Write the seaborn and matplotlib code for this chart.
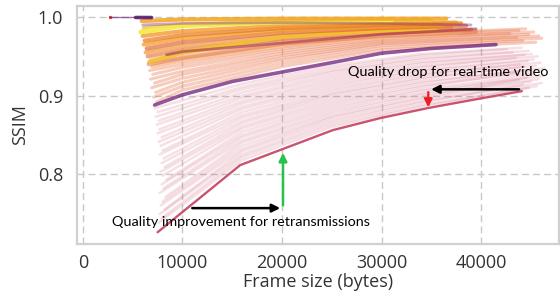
import numpy as np
import pandas as pd
import matplotlib.pyplot as plt
import seaborn as sns

# highlighted curves
crimson_size = [7500, 15800, 25100, 29850, 34600, 38900, 44100]
crimson_ssim = [0.726, 0.8115, 0.856, 0.8713, 0.884, 0.894, 0.9057]
purple_size = [7200, 10000, 15000, 20000, 25000, 30000, 35000, 41500]
purple_ssim = [0.888, 0.901, 0.918, 0.930, 0.942, 0.954, 0.960, 0.965]

# near-lossless clip at the very top
static_size = [2700, 5300, 6900]
static_ssim = [0.9995, 0.9995, 0.9994]

# faint bundle below the purple curve (bottom to top)
pink_knots = [16000, 25000, 34000]
pink_start_size = [7600, 7900, 7700, 8200, 7800, 8000, 8300, 7700, 8100, 7900,
                   8400, 8000, 7800, 8200, 7900, 8100, 7700, 8000, 7800, 7600,
                   7900, 7500, 7700, 7400, 7600, 7300, 7500, 7200]
pink_start_ssim = [0.738, 0.744, 0.749, 0.755, 0.760, 0.765, 0.771, 0.776, 0.782, 0.787,
                   0.793, 0.798, 0.803, 0.809, 0.814, 0.820, 0.825, 0.830, 0.836, 0.841,
                   0.847, 0.852, 0.857, 0.863, 0.868, 0.873, 0.879, 0.884]
pink_ssim_16k = [0.818, 0.822, 0.825, 0.829, 0.832, 0.836, 0.840, 0.843, 0.847, 0.850,
                 0.854, 0.858, 0.861, 0.865, 0.868, 0.872, 0.875, 0.879, 0.883, 0.886,
                 0.890, 0.893, 0.897, 0.900, 0.904, 0.908, 0.911, 0.915]
pink_ssim_25k = [0.860, 0.863, 0.866, 0.869, 0.872, 0.874, 0.877, 0.880, 0.883, 0.886,
                 0.889, 0.892, 0.895, 0.898, 0.901, 0.903, 0.906, 0.909, 0.912, 0.915,
                 0.918, 0.921, 0.924, 0.927, 0.930, 0.932, 0.935, 0.938]
pink_ssim_34k = [0.886, 0.888, 0.891, 0.893, 0.896, 0.898, 0.901, 0.903, 0.906, 0.908,
                 0.911, 0.913, 0.916, 0.918, 0.921, 0.923, 0.926, 0.928, 0.931, 0.933,
                 0.936, 0.938, 0.941, 0.943, 0.946, 0.948, 0.951, 0.953]
pink_end_size = [44800, 45600, 44200, 46100, 45000, 43800, 45800, 44600, 46300, 45200,
                 43600, 45900, 44900, 46400, 44300, 45500, 43900, 46000, 44700, 45300,
                 43500, 45700, 44400, 45100, 43200, 44800, 42600, 44100]
pink_end_ssim = [0.910, 0.912, 0.914, 0.916, 0.918, 0.920, 0.921, 0.923, 0.925, 0.927,
                 0.929, 0.931, 0.933, 0.935, 0.937, 0.938, 0.940, 0.942, 0.944, 0.946,
                 0.948, 0.950, 0.952, 0.953, 0.955, 0.957, 0.959, 0.961]

# salmon bundle between the purple curve and the warm cluster
mid_knots = [10000, 20000, 30000]
mid_start_size = [7400, 7100, 7300, 6900, 7200, 6800, 7000, 6700, 6900, 6600]
mid_start_ssim = [0.892, 0.898, 0.904, 0.910, 0.916, 0.921, 0.927, 0.932, 0.937, 0.942]
mid_ssim_10k = [0.907, 0.912, 0.917, 0.922, 0.927, 0.931, 0.936, 0.940, 0.944, 0.948]
mid_ssim_20k = [0.937, 0.941, 0.945, 0.948, 0.951, 0.954, 0.957, 0.960, 0.962, 0.965]
mid_ssim_30k = [0.958, 0.961, 0.964, 0.966, 0.968, 0.970, 0.972, 0.974, 0.976, 0.978]
mid_end_size = [45500, 44200, 46100, 43600, 45800, 44800, 42900, 45300, 43800, 44500]
mid_end_ssim = [0.968, 0.970, 0.973, 0.974, 0.976, 0.978, 0.979, 0.981, 0.983, 0.985]

# warm cluster of high quality clips (top to bottom)
top_knots = [10000, 20000, 30000]
top_start_size = [5900, 6000, 5800, 6100, 6000, 6200, 6100, 6400, 8400, 6700, 6300, 6500, 6800, 6600, 7000]
top_start_ssim = [0.995, 0.990, 0.981, 0.986, 0.976, 0.970, 0.965, 0.960, 0.952, 0.943, 0.955, 0.950, 0.945, 0.940, 0.937]
top_ssim_10k = [0.997, 0.992, 0.989, 0.990, 0.982, 0.977, 0.973, 0.968, 0.956, 0.955, 0.963, 0.958, 0.952, 0.948, 0.945]
top_ssim_20k = [0.998, 0.993, 0.994, 0.994, 0.989, 0.986, 0.983, 0.980, 0.967, 0.975, 0.976, 0.972, 0.969, 0.966, 0.963]
top_ssim_30k = [0.998, 0.992, 0.996, 0.995, 0.992, 0.990, 0.988, 0.986, 0.978, 0.983, 0.983, 0.980, 0.978, 0.976, 0.974]
top_end_size = [36500, 39000, 31000, 35000, 37500, 38000, 36000, 38500, 39500, 35500, 37000, 39000, 38000, 39500, 37500]
top_end_ssim = [0.998, 0.990, 0.996, 0.996, 0.993, 0.992, 0.990, 0.989, 0.985, 0.986, 0.986, 0.984, 0.982, 0.981, 0.979]
top_colors = ['#f4a21c', '#7b2a80', '#f5ea50', '#f0c23a', '#f29420', '#e8761e', '#f39c26',
              '#e0602c', '#a3304e', '#f1c232', '#ef8c2a', '#e36a32', '#f4b07a', '#e8764a', '#f7c590']
top_alpha = [0.85, 0.4, 0.95, 0.75, 0.75, 0.7, 0.75, 0.65, 0.6, 0.9, 0.65, 0.6, 0.6, 0.55, 0.55]
top_width = [3, 2, 3.5, 3, 3, 3, 3, 3, 2, 3.2, 3, 3, 3, 3, 3]


def bundle(prefix, start_size, start_ssim, knots, knot_cols, end_size, end_ssim):
    rows = []
    for i in range(len(start_size)):
        sizes = [start_size[i]] + list(knots) + [end_size[i]]
        vals = [start_ssim[i]] + [col[i] for col in knot_cols] + [end_ssim[i]]
        for s, v in zip(sizes, vals):
            rows.append({'curve': f'{prefix}{i:02d}', 'size': s, 'ssim': v})
    return pd.DataFrame(rows)


pink_df = bundle('p', pink_start_size, pink_start_ssim, pink_knots,
                 [pink_ssim_16k, pink_ssim_25k, pink_ssim_34k], pink_end_size, pink_end_ssim)
mid_df = bundle('m', mid_start_size, mid_start_ssim, mid_knots,
                [mid_ssim_10k, mid_ssim_20k, mid_ssim_30k], mid_end_size, mid_end_ssim)
top_df = bundle('t', top_start_size, top_start_ssim, top_knots,
                [top_ssim_10k, top_ssim_20k, top_ssim_30k], top_end_size, top_end_ssim)

sns.set_style('whitegrid')
plt.rcParams['font.family'] = ['Open Sans', 'DejaVu Sans']

fig = plt.figure(figsize=(5.6, 3.05), dpi=100)
ax = fig.add_axes([0.1375, 0.2, 0.861, 0.78])

crimson = '#c84a66'
sns.lineplot(data=pink_df, x='size', y='ssim', units='curve', estimator=None, sort=False,
             color=crimson, lw=1.8, alpha=0.17, ax=ax)
sns.lineplot(data=mid_df, x='size', y='ssim', units='curve', estimator=None, sort=False,
             color='#eb7a50', lw=2.2, alpha=0.38, ax=ax)
for j in range(len(top_colors) - 1, -1, -1):
    sns.lineplot(data=top_df[top_df['curve'] == f't{j:02d}'], x='size', y='ssim', sort=False,
                 color=top_colors[j], lw=top_width[j], alpha=top_alpha[j], ax=ax)

sns.lineplot(x=static_size, y=static_ssim, color='#5a1470', lw=1.0, alpha=0.6, ax=ax)
sns.lineplot(x=static_size[1:], y=static_ssim[1:], color='#5a1470', lw=2.6, alpha=0.85, ax=ax)
sns.scatterplot(x=static_size[:1], y=[1.0], color='#e0402a', s=6, linewidth=0, ax=ax)

sns.lineplot(x=purple_size, y=purple_ssim, color='#6f1d78', lw=2.6, alpha=0.75, sort=False, ax=ax)
sns.lineplot(x=crimson_size, y=crimson_ssim, color=crimson, lw=1.7, alpha=0.95, sort=False, ax=ax)

# annotations
drop_x = 34700
fix_x = 20100
ax.annotate('', xy=(drop_x, 0.908), xytext=(crimson_size[-1], 0.908),
            arrowprops=dict(arrowstyle='-|>', color='black', lw=1.8, mutation_scale=12))
ax.annotate('', xy=(drop_x, 0.8815), xytext=(drop_x, 0.908),
            arrowprops=dict(arrowstyle='-|>', color='#ee1c25', lw=1.6, mutation_scale=12))
ax.annotate('', xy=(fix_x, 0.7567), xytext=(10700, 0.7567),
            arrowprops=dict(arrowstyle='-|>', color='black', lw=1.8, mutation_scale=12))
ax.annotate('', xy=(fix_x, 0.8306), xytext=(fix_x, 0.7567),
            arrowprops=dict(arrowstyle='-|>', color='#27c24c', lw=1.8, mutation_scale=12))
ax.text(26600, 0.930, 'Quality drop for real-time video', fontsize=10.4,
        family=['Lato', 'DejaVu Sans'], va='center', ha='left', color='black')
ax.text(2900, 0.739, 'Quality improvement for retransmissions', fontsize=10.4,
        family=['Lato', 'DejaVu Sans'], va='center', ha='left', color='black')

ax.set_xlim(-600, 47850)
ax.set_ylim(0.711, 1.014)
ax.set_xticks([0, 10000, 20000, 30000, 40000])
ax.set_xticklabels(['0', '10000', '20000', '30000', '40000'])
ax.set_yticks([0.8, 0.9, 1.0])
ax.set_yticklabels(['0.8', '0.9', '1.0'])
ax.grid(True, linestyle=(0, (5, 3)), color='#c8c8c8', lw=1)
ax.set_axisbelow(True)
for sp in ax.spines.values():
    sp.set_color('#d0d0d0')
    sp.set_linewidth(1.6)
ax.tick_params(length=0, pad=10, labelsize=13, labelcolor='#333333')
ax.tick_params(axis='x', pad=7)
ax.set_xlabel('Frame size (bytes)', fontsize=13, color='#333333', labelpad=1)
ax.set_ylabel('SSIM', fontsize=13, color='#333333', labelpad=6)

fig.savefig('out.png', dpi=100)
